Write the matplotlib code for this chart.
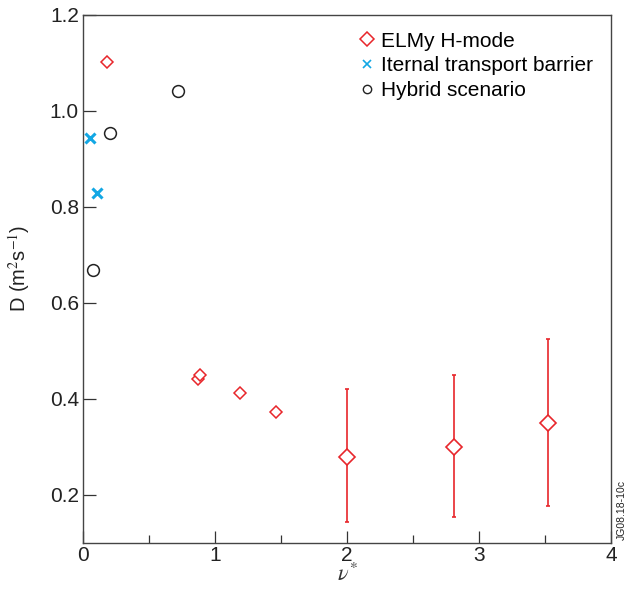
import matplotlib
matplotlib.use('Agg')
import matplotlib.pyplot as plt
import numpy as np

plt.rcParams['font.family'] = ['Liberation Sans', 'DejaVu Sans']
plt.rcParams['mathtext.fontset'] = 'stix'

###  DATA  ###

# ELMy H-mode, points without error bars
elmy_nu = [0.18, 0.87, 0.89, 1.19, 1.46]
elmy_D = [1.103, 0.442, 0.451, 0.412, 0.373]

# ELMy H-mode, points with error bars
elmy_err_nu = [2.0, 2.81, 3.52]
elmy_err_D = [0.280, 0.301, 0.350]
elmy_err_lo = [0.143, 0.154, 0.178]
elmy_err_hi = [0.421, 0.451, 0.526]

itb_nu = [0.055, 0.108]
itb_D = [0.943, 0.830]

hybrid_nu = [0.078, 0.205, 0.72]
hybrid_D = [0.669, 0.955, 1.041]

red = '#e8262b'
cyan = '#12a7e4'

###  PLOT  ###

fig = plt.figure(figsize=(6.26, 5.92), dpi=100)
ax = fig.add_axes([0.1326, 0.0828, 0.8434, 0.8919])

ax.plot(elmy_nu, elmy_D, 'D', ms=6.5, mfc='white', mec=red, mew=1.1, zorder=3)
yerr = [np.array(elmy_err_D) - np.array(elmy_err_lo),
        np.array(elmy_err_hi) - np.array(elmy_err_D)]
ax.errorbar(elmy_err_nu, elmy_err_D, yerr=yerr, fmt='D', ms=8.5, mfc='white',
            mec=red, mew=1.2, ecolor=red, elinewidth=1.2, capsize=1.6,
            capthick=1.2, zorder=3)
ax.plot(itb_nu, itb_D, 'x', ms=7, mec=cyan, mew=2.2, zorder=3)
ax.plot(hybrid_nu, hybrid_D, 'o', ms=8.5, mfc='none', mec='#222222', mew=1.1,
        zorder=3)

# legend proxies with small markers
h1, = ax.plot([], [], 'D', ms=7, mfc='white', mec=red, mew=1.1)
h2, = ax.plot([], [], 'x', ms=6, mec=cyan, mew=1.2)
h3, = ax.plot([], [], 'o', ms=6, mfc='none', mec='#222222', mew=1.0)
ax.legend([h1, h2, h3],
          ['ELMy H-mode', 'Iternal transport barrier', 'Hybrid scenario'],
          loc='upper right', bbox_to_anchor=(0.998, 1.0), frameon=False,
          fontsize=15, handlelength=0.6, handletextpad=0.4,
          labelspacing=0.28, borderpad=0.3)

ax.set_xlim(0, 4)
ax.set_ylim(0.1, 1.2)
ax.set_xticks(np.arange(0, 4.1, 1))
ax.set_xticks(np.arange(0.5, 4, 1), minor=True)
ax.set_yticks(np.arange(0.2, 1.21, 0.2))
ax.set_yticklabels(['0.2', '0.4', '0.6', '0.8', '1.0', '1.2'])
ax.tick_params(which='major', direction='in', length=9, width=0.9,
               labelsize=15, colors='#333333', labelcolor='#222222')
ax.tick_params(axis='x', which='major', pad=2)
ax.tick_params(axis='y', which='major', pad=3)
ax.tick_params(which='minor', direction='in', length=6, width=0.9,
               colors='#333333')
for s in ax.spines.values():
    s.set_color('#444444')
    s.set_linewidth(1.0)

ax.set_xlabel(r'$\nu^{*}$', fontsize=16, color='#333333', labelpad=-1)
ax.set_ylabel(r'D (m$^2$s$^{-1}$)', fontsize=14.5, color='#222222')
ax.yaxis.set_label_coords(-0.097, 0.52)

fig.text(0.993, 0.088, 'JG08.18-10c', rotation=90, fontsize=7.5,
         ha='center', va='bottom', color='#222222')

fig.savefig('out.png', dpi=100)
